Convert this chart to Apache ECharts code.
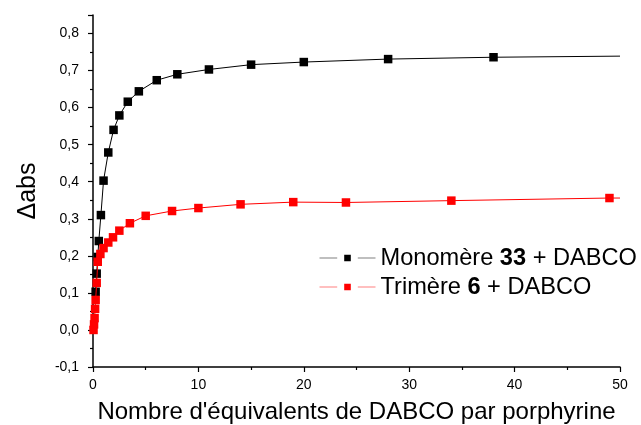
<!DOCTYPE html>
<html>
<head>
<meta charset="utf-8">
<script src="https://cdn.jsdelivr.net/npm/echarts@6/dist/echarts.min.js"></script>
<style>
html,body{margin:0;padding:0;background:#fff;}
#chart{width:641px;height:425px;}
</style>
</head>
<body>
<div id="chart"></div>
<script>
// Monomère 33 + DABCO
var monoX = [0.25, 0.35, 0.45, 0.55, 0.75, 1.0, 1.45, 1.95, 2.5, 3.3, 4.35, 6.05, 8.0, 11.0, 15.0, 20.0, 28.0, 38.0];
var monoY = [0.103, 0.152, 0.197, 0.240, 0.310, 0.403, 0.479, 0.540, 0.579, 0.616, 0.644, 0.674, 0.690, 0.703, 0.716, 0.723, 0.731, 0.736];
var monoCurveEnd = [50, 0.739];
// Trimère 6 + DABCO
var triX = [0.05, 0.1, 0.15, 0.2, 0.25, 0.35, 0.45, 0.7, 1.0, 1.45, 1.9, 2.5, 3.5, 5.0, 7.5, 10.0, 14.0, 19.0, 24.0, 34.0, 49.0];
var triY = [0.0, 0.015, 0.032, 0.057, 0.081, 0.127, 0.184, 0.205, 0.221, 0.236, 0.250, 0.268, 0.288, 0.308, 0.321, 0.329, 0.339, 0.345, 0.344, 0.349, 0.356];
var triCurveEnd = [50, 0.356];

var seriesNames = ['Monomère 33 + DABCO', 'Trimère 6 + DABCO'];
var xTitle = "Nombre d'équivalents de DABCO par porphyrine";
var yTitle = 'Δabs';

function build(xs, ys, end) {
  var d = xs.map(function (x, i) { return [x, ys[i]]; });
  d.push({ value: end, symbol: 'none' });
  return d;
}

var FONT = 'Liberation Sans, Arial, sans-serif';
var chart = echarts.init(document.getElementById('chart'), null, { renderer: 'canvas' });
chart.setOption({
  animation: false,
  backgroundColor: '#fff',
  grid: { left: 93, right: 21, top: 15, bottom: 58, containLabel: false, outerBoundsMode: 'none' },
  legend: {
    orient: 'vertical',
    left: 314,
    top: 241,
    itemWidth: 56,
    itemHeight: 17,
    itemGap: 5,
    data: seriesNames,
    lineStyle: { opacity: 0.5, width: 1 },
    itemStyle: { borderColor: '#fff', borderWidth: 7 },
    textStyle: {
      fontFamily: FONT, fontSize: 23.6, color: '#000', lineHeight: 24,
      rich: {
        n: { fontFamily: FONT, fontSize: 23.6, color: '#000' },
        b: { fontFamily: FONT, fontSize: 23.6, color: '#000', fontWeight: 'bold' }
      }
    },
    formatter: function (name) {
      var m = name.match(/^(\S+ )(\d+)( .*)$/);
      return m ? '{n|' + m[1] + '}{b|' + m[2] + '}{n|' + m[3] + '}' : name;
    }
  },
  xAxis: {
    type: 'value',
    min: 0, max: 50, interval: 10,
    name: xTitle,
    nameLocation: 'middle',
    nameGap: 33,
    nameTextStyle: { fontFamily: FONT, fontSize: 24, color: '#000' },
    axisLine: { show: true, onZero: false, lineStyle: { color: '#000', width: 1.5 } },
    axisTick: { show: true, inside: false, length: 5, lineStyle: { color: '#000', width: 1.2 } },
    minorTick: { show: true, splitNumber: 2, length: 3, lineStyle: { color: '#000', width: 1.2 } },
    splitLine: { show: false },
    axisLabel: { fontFamily: FONT, fontSize: 14, color: '#000', margin: 11 }
  },
  yAxis: {
    type: 'value',
    min: -0.1, max: 0.85, interval: 0.1,
    name: yTitle,
    nameLocation: 'middle',
    nameGap: 52,
    nameRotate: 90,
    nameTextStyle: { fontFamily: FONT, fontSize: 25, color: '#000' },
    axisLine: { show: true, onZero: false, lineStyle: { color: '#000', width: 1.5 } },
    axisTick: { show: true, inside: false, length: 5, lineStyle: { color: '#000', width: 1.2 } },
    minorTick: { show: true, splitNumber: 2, length: 3, lineStyle: { color: '#000', width: 1.2 } },
    splitLine: { show: false },
    axisLabel: {
      fontFamily: FONT, fontSize: 14, color: '#000', margin: 14, showMaxLabel: false,
      formatter: function (v) {
        var r = Math.round(v * 10) / 10;
        if (Math.abs(r - v) > 1e-6) return '';
        return r.toFixed(1).replace('.', ',');
      }
    }
  },
  series: [
    {
      name: seriesNames[0],
      type: 'line',
      data: build(monoX, monoY, monoCurveEnd),
      symbol: 'rect',
      symbolSize: 8.5,
      showAllSymbol: true,
      color: '#000',
      itemStyle: { color: '#000' },
      lineStyle: { color: '#000', width: 1 },
      z: 2
    },
    {
      name: seriesNames[1],
      type: 'line',
      data: build(triX, triY, triCurveEnd),
      symbol: 'rect',
      symbolSize: 8.5,
      showAllSymbol: true,
      color: '#ff0000',
      itemStyle: { color: '#ff0000' },
      lineStyle: { color: '#ff0000', width: 1 },
      z: 3
    }
  ]
});
</script>
</body>
</html>
